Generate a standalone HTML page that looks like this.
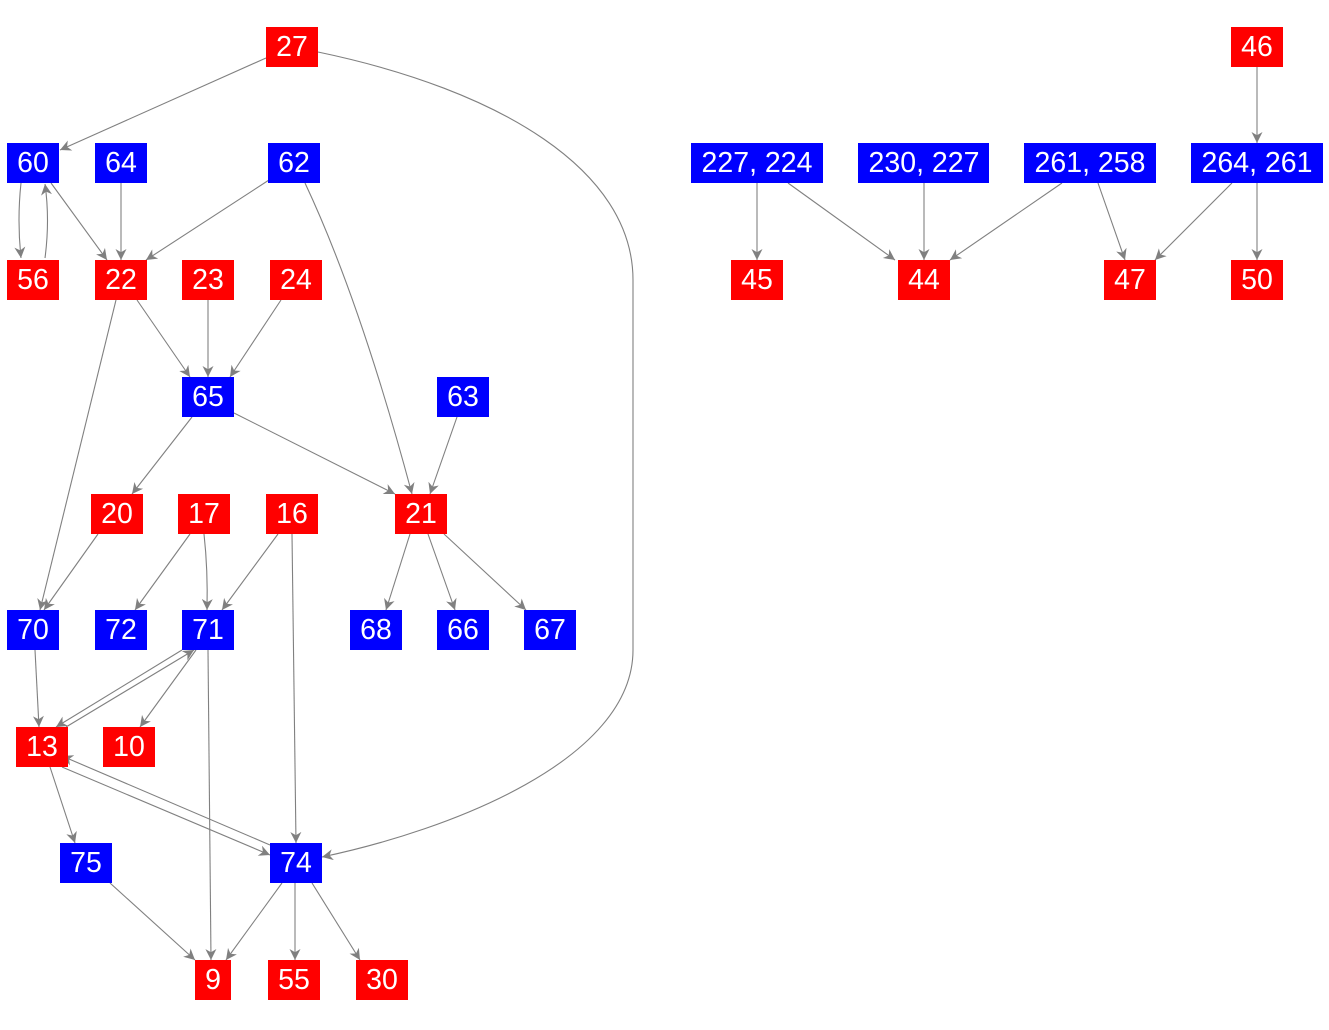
<!DOCTYPE html>
<html><head><meta charset="utf-8"><style>
html,body{margin:0;padding:0;background:#fff;}
svg text{font-family:"Liberation Sans",Arial,sans-serif;font-size:28.5px;fill:#fff;text-anchor:middle;dominant-baseline:central;}
</style></head><body>
<svg width="1329" height="1025" viewBox="0 0 1329 1025" xmlns="http://www.w3.org/2000/svg">
<defs><marker id="a" viewBox="0 0 10 10" refX="10" refY="5" markerWidth="16" markerHeight="11" markerUnits="userSpaceOnUse" orient="auto"><path d="M0,0 L10,5 L0,10 L3,5 z" fill="#808080"/></marker></defs>
<g stroke="#808080" stroke-width="1.1" fill="none" marker-end="url(#a)">
<line x1="266" y1="58" x2="60" y2="150"/>
<path d="M21,183 Q17,220 21,258"/>
<path d="M45,258 Q50,220 45,184"/>
<line x1="51" y1="183" x2="107" y2="260"/>
<line x1="121" y1="183" x2="121" y2="260"/>
<line x1="269" y1="180" x2="146" y2="260"/>
<path d="M305,183 Q360,300 412,494"/>
<line x1="116" y1="300" x2="40" y2="610"/>
<line x1="137" y1="300" x2="190" y2="377"/>
<line x1="208" y1="300" x2="208" y2="377"/>
<line x1="281" y1="300" x2="230" y2="377"/>
<line x1="192" y1="417" x2="132" y2="494"/>
<line x1="234" y1="413" x2="395" y2="494"/>
<line x1="457" y1="417" x2="430" y2="494"/>
<line x1="98" y1="534" x2="44" y2="610"/>
<line x1="190" y1="534" x2="135" y2="610"/>
<path d="M204,534 Q208,570 207,610"/>
<line x1="278" y1="534" x2="222" y2="610"/>
<line x1="292" y1="534" x2="296" y2="843"/>
<line x1="410" y1="534" x2="386" y2="610"/>
<line x1="428" y1="534" x2="455" y2="610"/>
<line x1="444" y1="534" x2="526" y2="610"/>
<line x1="35" y1="650" x2="39" y2="727"/>
<line x1="182" y1="650" x2="56" y2="727"/>
<line x1="66" y1="727" x2="194" y2="650"/>
<line x1="196" y1="650" x2="140" y2="727"/>
<line x1="208" y1="650" x2="211" y2="960"/>
<line x1="50" y1="767" x2="75" y2="843"/>
<line x1="62" y1="767" x2="270" y2="855"/>
<line x1="270" y1="845" x2="62" y2="756"/>
<path d="M318,52 C500,90 633,170 633,280 L633,650 C633,760 450,830 322,857"/>
<line x1="110" y1="883" x2="195" y2="960"/>
<line x1="282" y1="883" x2="226" y2="960"/>
<line x1="295" y1="883" x2="295" y2="960"/>
<line x1="312" y1="883" x2="360" y2="960"/>
<line x1="1257" y1="67" x2="1257" y2="143"/>
<line x1="757" y1="183" x2="757" y2="260"/>
<line x1="788" y1="183" x2="895" y2="260"/>
<line x1="924" y1="183" x2="924" y2="260"/>
<line x1="1062" y1="183" x2="950" y2="260"/>
<line x1="1098" y1="183" x2="1125" y2="260"/>
<line x1="1232" y1="183" x2="1155" y2="260"/>
<line x1="1257" y1="183" x2="1257" y2="260"/>
</g>
<g>
<g fill="#ff0000">
<rect x="266" y="27" width="52" height="40"/>
<rect x="1231" y="27" width="52" height="40"/>
<rect x="7" y="260" width="52" height="40"/>
<rect x="95" y="260" width="52" height="40"/>
<rect x="182" y="260" width="52" height="40"/>
<rect x="270" y="260" width="52" height="40"/>
<rect x="731" y="260" width="52" height="40"/>
<rect x="898" y="260" width="52" height="40"/>
<rect x="1104" y="260" width="52" height="40"/>
<rect x="1231" y="260" width="52" height="40"/>
<rect x="91" y="494" width="52" height="40"/>
<rect x="178" y="494" width="52" height="40"/>
<rect x="266" y="494" width="52" height="40"/>
<rect x="395" y="494" width="52" height="40"/>
<rect x="16" y="727" width="52" height="40"/>
<rect x="103" y="727" width="52" height="40"/>
<rect x="195" y="960" width="36" height="40"/>
<rect x="268" y="960" width="52" height="40"/>
<rect x="356" y="960" width="52" height="40"/>
</g>
<g fill="#0000ff">
<rect x="7" y="143" width="52" height="40"/>
<rect x="95" y="143" width="52" height="40"/>
<rect x="268" y="143" width="52" height="40"/>
<rect x="691" y="143" width="132" height="40"/>
<rect x="858" y="143" width="131" height="40"/>
<rect x="1024" y="143" width="132" height="40"/>
<rect x="1191" y="143" width="132" height="40"/>
<rect x="182" y="377" width="52" height="40"/>
<rect x="437" y="377" width="52" height="40"/>
<rect x="7" y="610" width="52" height="40"/>
<rect x="95" y="610" width="52" height="40"/>
<rect x="182" y="610" width="52" height="40"/>
<rect x="350" y="610" width="52" height="40"/>
<rect x="437" y="610" width="52" height="40"/>
<rect x="524" y="610" width="52" height="40"/>
<rect x="60" y="843" width="52" height="40"/>
<rect x="270" y="843" width="52" height="40"/>
</g>
<text x="292" y="47">27</text><text x="1257" y="47">46</text>
<text x="33" y="163">60</text><text x="121" y="163">64</text><text x="294" y="163">62</text>
<text x="757" y="163">227, 224</text><text x="924" y="163">230, 227</text><text x="1090" y="163">261, 258</text><text x="1257" y="163">264, 261</text>
<text x="33" y="280">56</text><text x="121" y="280">22</text><text x="208" y="280">23</text><text x="296" y="280">24</text>
<text x="757" y="280">45</text><text x="924" y="280">44</text><text x="1130" y="280">47</text><text x="1257" y="280">50</text>
<text x="208" y="397">65</text><text x="463" y="397">63</text>
<text x="117" y="514">20</text><text x="204" y="514">17</text><text x="292" y="514">16</text><text x="421" y="514">21</text>
<text x="33" y="630">70</text><text x="121" y="630">72</text><text x="208" y="630">71</text><text x="376" y="630">68</text><text x="463" y="630">66</text><text x="550" y="630">67</text>
<text x="42" y="747">13</text><text x="129" y="747">10</text>
<text x="86" y="863">75</text><text x="296" y="863">74</text>
<text x="213" y="980">9</text><text x="294" y="980">55</text><text x="382" y="980">30</text>
</g>
</svg>
</body></html>
